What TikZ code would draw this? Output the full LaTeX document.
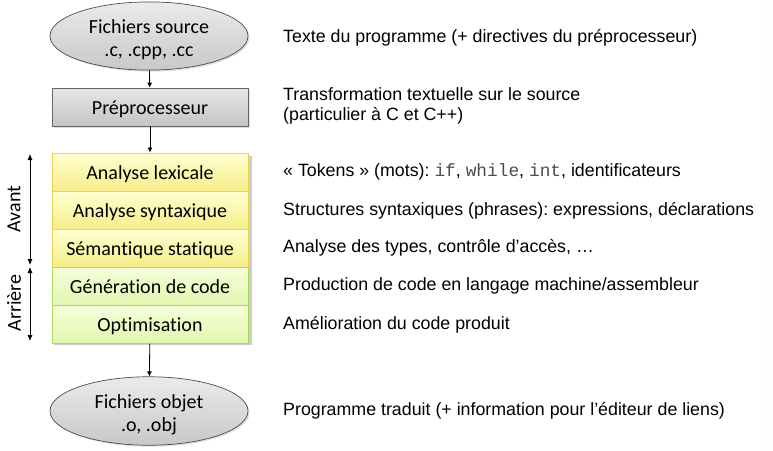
\documentclass[tikz,border=0pt]{standalone}
\usepackage{fontspec}
\setmainfont{Carlito}[Ligatures={NoCommon,NoContextual,NoRare}]
\newfontfamily\arialf{Liberation Sans}
\newfontfamily\courf{Liberation Mono}
\usetikzlibrary{shapes.geometric,arrows.meta,shadows}
\frenchspacing
\definecolor{ybord}{HTML}{E8D44C}
\definecolor{ytop}{HTML}{FFFFD2}
\definecolor{ybot}{HTML}{F6EE8A}
\definecolor{gbord}{HTML}{ADD95A}
\definecolor{gtop}{HTML}{F4FFDC}
\definecolor{gbot}{HTML}{E2F6AE}
\definecolor{elltop}{HTML}{EBEBEB}
\definecolor{ellbot}{HTML}{C8C8C8}
\definecolor{boxtop}{HTML}{E6E6E6}
\definecolor{boxbot}{HTML}{C4C4C4}
\pgfdeclarehorizontalshading{slidebg}{100bp}{color(0bp)=(black!9); color(12bp)=(white); color(74bp)=(white); color(100bp)=(black!24)}
\tikzset{
  filenode/.style={ellipse, draw=black!70, line width=0.7pt, top color=elltop, bottom color=ellbot,
    minimum width=198pt, minimum height=56pt, inner sep=0pt, align=center,
    font=\fontsize{20}{23}\selectfont, drop shadow={opacity=0.25,shadow xshift=1.5pt,shadow yshift=-1.5pt}},
  boxtext/.style={text height=17pt, text depth=3pt, font=\fontsize{20}{24}\selectfont},
  graybox/.style={rectangle, draw=black!60, line width=0.6pt, top color=boxtop, bottom color=boxbot,
    minimum width=196pt, minimum height=38pt, inner sep=0pt, boxtext,
    drop shadow={opacity=0.25,shadow xshift=1.5pt,shadow yshift=-1.5pt}},
  ybox/.style={rectangle, draw=ybord, line width=1pt, top color=ytop, bottom color=ybot,
    minimum width=196pt, minimum height=38pt, inner sep=0pt, boxtext},
  gbox/.style={rectangle, draw=gbord, line width=1pt, top color=gtop, bottom color=gbot,
    minimum width=196pt, minimum height=38pt, inner sep=0pt, boxtext},
  desc/.style={anchor=west, inner sep=0pt, align=left, font=\arialf\fontsize{17.8}{20}\selectfont},
  flow/.style={-{Latex[length=5pt,width=5pt]}, line width=0.8pt},
  span/.style={{Latex[length=6pt,width=5pt]}-{Latex[length=6pt,width=5pt]}, line width=0.8pt},
  sidelabel/.style={rotate=90, inner sep=0pt, font=\fontsize{20}{24}\selectfont}
}
\begin{document}
\begin{tikzpicture}[x=1pt,y=-1pt]
\useasboundingbox (0,0) rectangle (773,450);
\shade[shading=slidebg] (0,0) rectangle (773,450);

\node[filenode] (src) at (149,36) {\rule{0pt}{22pt}Fichiers source\\.c, .cpp, .cc};
\node[graybox] (pre) at (150,107) {Préprocesseur};
\fill[black, opacity=0.2] (53.5,155.5) rectangle (251.5,344.5);
\node[ybox] (lex) at (150,172) {Analyse lexicale};
\node[ybox] (syn) at (150,210) {Analyse syntaxique};
\node[ybox] (sem) at (150,248) {Sémantique statique};
\node[gbox] (gen) at (150,286) {Génération de code};
\node[gbox] (opt) at (150,324) {Optimisation};
\node[filenode] (obj) at (149,411) {\rule{0pt}{22pt}Fichiers objet\\.o, .obj};

\draw[flow] (src) -- (pre);
\draw[flow] (pre) -- (lex);
\draw[flow] (opt) -- (obj);

\coordinate (a1) at (30,154);
\coordinate (a2) at (30,265);
\coordinate (a3) at (30,267);
\coordinate (a4) at (30,341);
\draw[span] (a1) -- (a2);
\draw[span] (a3) -- (a4);
\node[sidelabel] (avant) at (14,209) {Avant};
\node[sidelabel] (arriere) at (14,303) {Arrière};

\node[desc] (d1) at (283,38) {Texte du programme (+ directives du préprocesseur)};
\node[desc] (d2) at (283,106) {Transformation textuelle sur le source\\(particulier à C et C++)};
\node[desc] (d3) at (283,172) {« Tokens » (mots): {\courf\color{black!70}if}, {\courf\color{black!70}while}, {\courf\color{black!70}int}, identificateurs};
\node[desc] (d4) at (283,211) {Structures syntaxiques (phrases): expressions, déclarations};
\node[desc] (d5) at (283,248) {Analyse des types, contrôle d’accès, …};
\node[desc] (d6) at (283,286) {Production de code en langage machine/assembleur};
\node[desc] (d7) at (283,325) {Amélioration du code produit};
\node[desc] (d8) at (283,411) {Programme traduit (+ information pour l’éditeur de liens)};
\end{tikzpicture}
\end{document}
